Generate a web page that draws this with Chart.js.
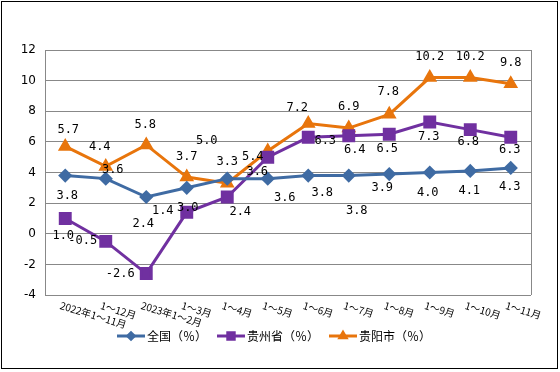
<!DOCTYPE html>
<html>
<head>
<meta charset="utf-8">
<script src="https://cdn.jsdelivr.net/npm/chart.js@4.4.0/dist/chart.umd.min.js"></script>
<style>
  body { margin: 0; background: #fff; }
  #wrap { width: 560px; height: 372px; }
</style>
</head>
<body>
<div id="wrap"><canvas id="myChart" width="560" height="372"></canvas></div>
<script>
// categories and series
const labels = ['2022年1～11月', '1～12月', '2023年1～2月', '1～3月', '1～4月', '1～5月',
                '1～6月', '1～7月', '1～8月', '1～9月', '1～10月', '1～11月'];
const national = [3.8, 3.6, 2.4, 3.0, 3.6, 3.6, 3.8, 3.8, 3.9, 4.0, 4.1, 4.3];
const guizhou  = [1.0, -0.5, -2.6, 1.4, 2.4, 5.0, 6.3, 6.4, 6.5, 7.3, 6.8, 6.3];
const guiyang  = [5.7, 4.4, 5.8, 3.7, 3.3, 5.4, 7.2, 6.9, 7.8, 10.2, 10.2, 9.8];
const seriesNames = ['全国（％）', '贵州省（％）', '贵阳市（％）'];
const yTicks = { min: -4, max: 12, step: 2 };

// where each value label sits relative to its point [dx, dy]
const labelShift = [
  [[2, 20], [7, -9], [-3, 27], [1, 20], [30, -7], [17, 19], [14, 17], [8, 35], [-7, 14], [-2, 20], [-1, 20], [-1, 19]],
  [[-2, 17], [-23, -1], [-26, 0], [-24, -1], [13, 15], [-61, -16], [17, 4], [6, 14], [-2, 15], [-1, 15], [-2, 12], [-1, 13]],
  [[3, -17], [-6, -20], [-1, -20], [0, -20], [0, -21], [-15, 6], [-11, -16], [0, -21], [-1, -22], [0, -21], [0, -21], [0, -21]]
];

const blue = '#3F6BA3';
const purple = '#7030A0';
const orange = '#E8750C';

// data labels
const valueLabels = {
  id: 'valueLabels',
  afterDatasetsDraw(chart) {
    const ctx = chart.ctx;
    ctx.save();
    ctx.font = '12px "DejaVu Sans Mono"';
    ctx.fillStyle = '#000';
    ctx.textAlign = 'center';
    ctx.textBaseline = 'middle';
    chart.data.datasets.forEach(function(ds, d) {
      chart.getDatasetMeta(d).data.forEach(function(pt, i) {
        const s = labelShift[d][i];
        ctx.fillText(ds.data[i].toFixed(1), pt.x + s[0], pt.y + s[1]);
      });
    });
    ctx.restore();
  }
};

// frame, slanted category labels and legend
const decorations = {
  id: 'decorations',
  beforeDraw(chart) {
    const ctx = chart.ctx;
    ctx.save();
    ctx.fillStyle = '#fff';
    ctx.fillRect(0, 0, chart.width, chart.height);
    ctx.strokeStyle = '#000';
    ctx.lineWidth = 1;
    ctx.strokeRect(1.5, 1.5, chart.width - 4, chart.height - 5);
    ctx.restore();
  },
  afterDraw(chart) {
    const ctx = chart.ctx;
    const area = chart.chartArea;
    const xs = chart.scales.x;
    ctx.save();
    // plot border right side
    ctx.strokeStyle = '#888';
    ctx.lineWidth = 1;
    ctx.beginPath();
    ctx.moveTo(Math.round(area.right) + 0.5, area.top);
    ctx.lineTo(Math.round(area.right) + 0.5, area.bottom);
    ctx.stroke();

    // category labels, slanted down to the right
    ctx.fillStyle = '#000';
    ctx.font = '10px "Noto Sans CJK SC"';
    ctx.textAlign = 'left';
    ctx.textBaseline = 'middle';
    labels.forEach(function(lab, i) {
      const x = xs.getPixelForValue(i);
      ctx.save();
      ctx.translate(x - 5, area.bottom + 10);
      ctx.rotate(17 * Math.PI / 180);
      ctx.fillText(lab, 0, 0);
      ctx.restore();
    });

    // legend: line with small marker, then name
    ctx.font = '12px "Noto Sans CJK SC"';
    const y = 336;
    let x = 117;
    chart.data.datasets.forEach(function(ds, d) {
      ctx.strokeStyle = ds.borderColor;
      ctx.lineWidth = 3;
      ctx.beginPath();
      ctx.moveTo(x, y);
      ctx.lineTo(x + 28, y);
      ctx.stroke();
      ctx.fillStyle = ds.borderColor;
      Chart.helpers.drawPoint(ctx, {
        pointStyle: ds.pointStyle,
        radius: ds.pointRadius * 0.65,
        borderWidth: 1
      }, x + 14, y);
      ctx.fillStyle = '#000';
      ctx.fillText(seriesNames[d], x + 30, y);
      x += 30 + ctx.measureText(seriesNames[d]).width + 10;
    });
    ctx.restore();
  }
};

const data = {
  labels: labels,
  datasets: [
    {
      label: seriesNames[0],
      data: national,
      borderColor: blue,
      backgroundColor: blue,
      borderWidth: 3,
      pointStyle: 'rectRot',
      pointRadius: 5,
      pointBorderColor: blue,
      pointBackgroundColor: blue
    },
    {
      label: seriesNames[1],
      data: guizhou,
      borderColor: purple,
      backgroundColor: purple,
      borderWidth: 3,
      pointStyle: 'rect',
      pointRadius: 7,
      pointBorderColor: purple,
      pointBackgroundColor: purple
    },
    {
      label: seriesNames[2],
      data: guiyang,
      borderColor: orange,
      backgroundColor: orange,
      borderWidth: 3,
      pointStyle: 'triangle',
      pointRadius: 5.5,
      pointBorderColor: orange,
      pointBackgroundColor: orange
    }
  ]
};

const config = {
  type: 'line',
  data: data,
  options: {
    responsive: false,
    animation: false,
    layout: {
      padding: { top: 50, right: 29, bottom: 0, left: 0 }
    },
    plugins: {
      legend: { display: false },
      tooltip: { enabled: false }
    },
    scales: {
      x: {
        offset: true,
        grid: { display: false },
        border: { display: false },
        ticks: { display: false },
        afterFit: function(scale) { scale.height = 77; }
      },
      y: {
        min: yTicks.min,
        max: yTicks.max,
        grid: { color: '#888', lineWidth: 1, drawTicks: false },
        border: { color: '#888', width: 1 },
        ticks: {
          stepSize: yTicks.step,
          color: '#000',
          padding: 9,
          font: { family: '"DejaVu Sans"', size: 12 }
        },
        afterFit: function(scale) { scale.width = 45; }
      }
    }
  },
  plugins: [decorations, valueLabels]
};

var myChart = new Chart(document.getElementById('myChart'), config);
</script>
</body>
</html>
